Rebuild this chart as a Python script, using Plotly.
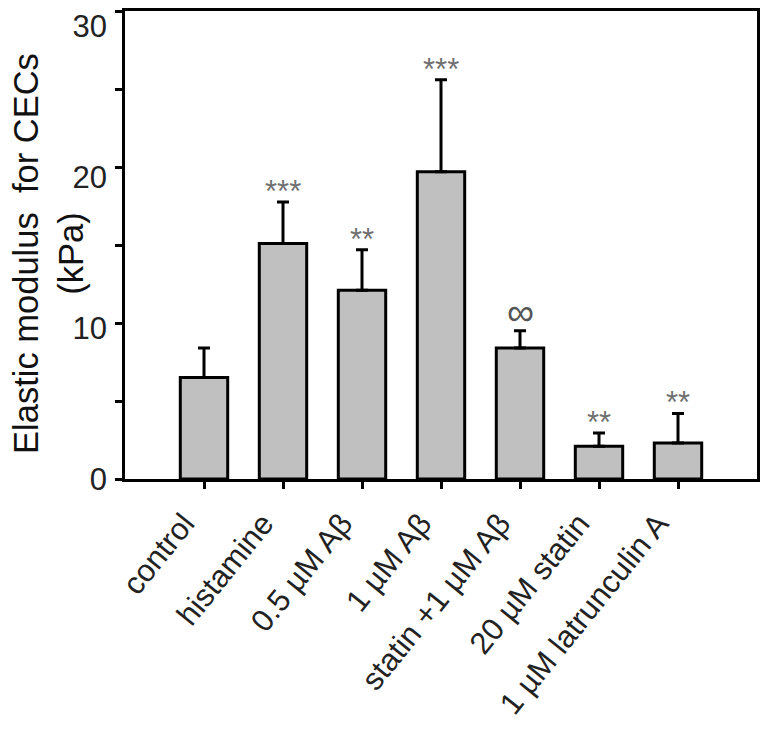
import plotly.graph_objects as go

categories = ["control", "histamine", "0.5 µM Aβ", "1 µM Aβ",
              "statin +1 µM Aβ", "20 µM statin", "1 µM latrunculin A"]
means = [6.5, 15.1, 12.1, 19.7, 8.4, 2.1, 2.3]
errors_up = [1.9, 2.65, 2.6, 5.9, 1.1, 0.85, 1.9]
significance = ["", "***", "**", "***", "∞", "**", "**"]
y_tickvals = [0, 5, 10, 15, 20, 25, 30]
y_labelvals = [0, 10, 20, 30]

x_pos = list(range(len(categories)))

FONT = "Liberation Sans, Arial, sans-serif"

fig = go.Figure()
fig.add_trace(go.Bar(
    x=x_pos, y=means, width=0.6,
    marker=dict(color="#c0c0c0", line=dict(color="black", width=3)),
    error_y=dict(type="data", symmetric=False, array=errors_up,
                 arrayminus=[0] * len(means), color="black",
                 thickness=3, width=6),
    showlegend=False, hoverinfo="skip",
))
# invisible trace so that the label-only axis is drawn
fig.add_trace(go.Scatter(x=[None], y=[None], yaxis="y2", showlegend=False,
                         hoverinfo="skip", mode="markers"))

for i, s in enumerate(significance):
    if not s:
        continue
    is_inf = s == "∞"
    fig.add_annotation(
        x=x_pos[i], y=means[i] + errors_up[i], xref="x", yref="y",
        text=s, showarrow=False, yanchor="bottom",
        yshift=-9 if not is_inf else -4,
        font=dict(family=FONT, size=31 if not is_inf else 38,
                  color="#707070" if not is_inf else "#555555"),
    )

fig.add_annotation(
    xref="paper", yref="paper", x=0, y=0.481, xshift=-76,
    xanchor="center", yanchor="middle", textangle=-90,
    text="Elastic modulus\u00a0 for CECs<br>(kPa)", showarrow=False,
    font=dict(family=FONT, size=34.5, color="#111111"),
)

fig.update_layout(
    width=761, height=734,
    margin=dict(l=117, r=12, t=3, b=263),
    plot_bgcolor="white", paper_bgcolor="white",
    bargap=0.4,
    font=dict(family=FONT, color="#222222"),
    yaxis2=dict(
        overlaying="y", side="left", range=[0, 31],
        tickvals=y_labelvals, ticks="", showgrid=False, zeroline=False,
        showline=False, automargin=False, ticklabelstandoff=17,
        tickfont=dict(family=FONT, size=31, color="#222222"),
    ),
)
fig.update_xaxes(
    range=[-1, 7], tickvals=x_pos, ticktext=categories, tickangle=-51,
    showgrid=False, zeroline=False, showline=True, linecolor="black",
    linewidth=3, mirror=True, ticks="outside", ticklen=7, tickwidth=3,
    tickcolor="black", tickfont=dict(family=FONT, size=31, color="#222222"),
    automargin=False, ticklabelshift=-20, ticklabelstandoff=4,
)
fig.layout.yaxis.update(
    range=[0, 30], tickvals=y_tickvals, ticktext=[""] * len(y_tickvals),
    showgrid=False, zeroline=False, showline=True, linecolor="black",
    linewidth=3, mirror=True, ticks="outside", ticklen=7, tickwidth=3,
    tickcolor="black", automargin=False,
)

fig.write_html("out.html")
